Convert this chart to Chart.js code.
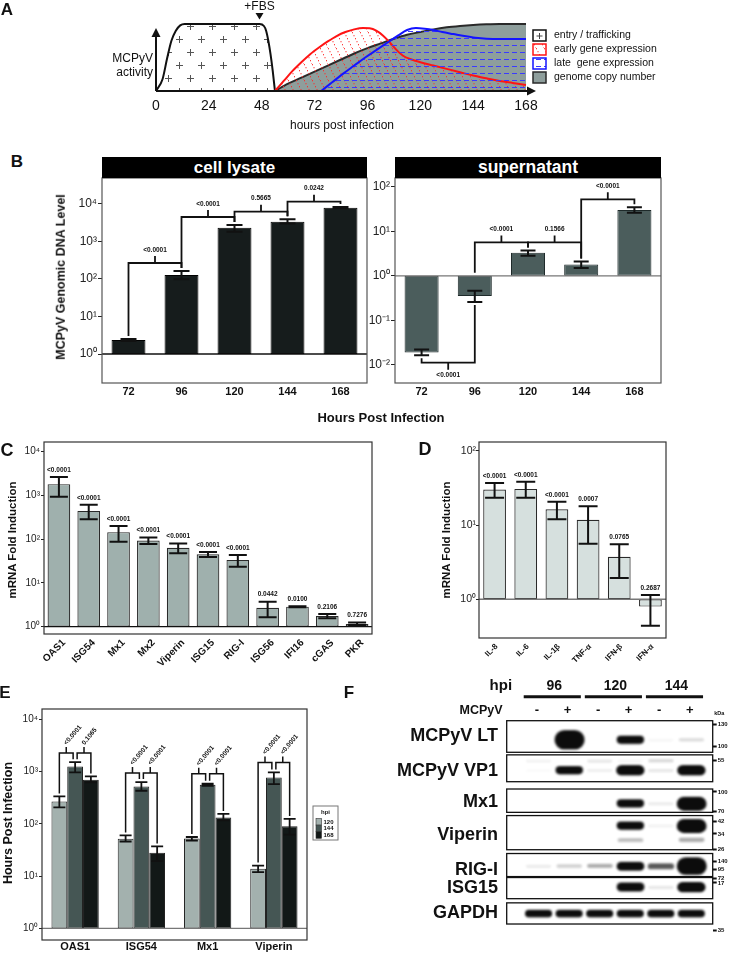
<!DOCTYPE html>
<html>
<head>
<meta charset="utf-8">
<title>MCPyV infection kinetics and innate immune response</title>
<script src="https://cdn.jsdelivr.net/npm/chart.js@4.4.1/dist/chart.umd.min.js"></script>
<style>
html,body{margin:0;padding:0;background:#fff;}
body{position:relative;width:736px;height:953px;overflow:hidden;font-family:'Liberation Sans',Arial,Helvetica,sans-serif;color:#111;}
canvas{position:absolute;}
.t{position:absolute;white-space:nowrap;line-height:1;color:#111;}
.hdr{position:absolute;background:#000;color:#fff;font-weight:bold;text-align:center;white-space:nowrap;}
</style>
</head>
<body>
<canvas id="cA"></canvas>
<canvas id="cB1"></canvas>
<canvas id="cB2"></canvas>
<canvas id="cC"></canvas>
<canvas id="cD"></canvas>
<canvas id="cE"></canvas>
<canvas id="cF"></canvas>
<div class="hdr" style="left:102px;top:157px;width:265px;height:21px;line-height:21px;font-size:17px;">cell lysate</div>
<div class="hdr" style="left:395px;top:157px;width:266px;height:21px;line-height:21px;font-size:17.5px;">supernatant</div>
<script>
const FONT = "'Liberation Sans', Arial, Helvetica, sans-serif";
Chart.defaults.font.family = FONT;
Chart.defaults.color = '#222';

// ================= DATA =================
// Panel A – schematic activity curves ([hours post infection, relative activity %])
const A_HOUR_TICKS = [0, 24, 48, 72, 96, 120, 144, 168];
const A_SERIES = ['entry / trafficking', 'early gene expression', 'late  gene expression', 'genome copy number'];
const A_ENTRY = [[0,0],[3,18],[5,48],[7,75],[9,90],[11,98],[13,100],[47,100],[49,97],[50,90],[51,75],[52,55],[53,30],[54,0]];
const A_EARLY = [[54,0],[58,15],[62,30],[66,43],[70,55],[74,65],[78,74],[82,82],[86,88],[90,92],[94,94],[97,93.5],[100,90],[103,83],[106,73],[109,62],[112,53],[116,47],[120,43],[126,38],[132,33],[138,28],[144,23],[150,19],[156,15],[162,12],[168,9]];
const A_LATE = [[75,0],[80,13],[85,26],[90,38],[95,50],[100,61],[105,72],[110,83],[114,91],[118,94],[122,93],[126,91],[130,88],[135,85],[140,82],[145,79.5],[150,78],[156,77.5],[168,77.5]];
const A_GENOME = [[54,0],[60,11],[66,20],[72,29],[78,38],[84,47],[90,56],[96,64],[102,71],[108,78],[114,84],[120,88],[126,92],[132,95],[138,97],[144,98.5],[150,99.5],[156,100],[168,100]];
const A_FBS_HOUR = 47;

// Panel B – MCPyV genomic DNA level
const B_HOURS = ['72', '96', '120', '144', '168'];
const B_LYSATE_TICKS = [1, 10, 100, 1000, 10000];
const B_LYSATE = [2.36, 128, 2330, 3370, 7950];
const B_LYSATE_LO = [2.22, 98, 1820, 3000, 7650];
const B_LYSATE_HI = [2.5, 163, 2750, 3900, 8250];
const B_LYSATE_PAIRS = [[0,1],[1,2],[2,3],[3,4]];
const B_LYSATE_PLEVEL = [267, 4500, 6230, 11520];
const B_LYSATE_P = ['<0.0001', '<0.0001', '0.5665', '0.0242'];
const B_SUP_TICKS = [0.01, 0.1, 1, 10, 100];
const B_SUP = [0.019, 0.355, 3.29, 1.8, 29.9];
const B_SUP_LO = [0.0165, 0.26, 2.81, 1.49, 26];
const B_SUP_HI = [0.0222, 0.46, 3.72, 2.1, 34.4];
const B_SUP_PAIRS = [[0,1],[1,2],[2,3],[3,4]];
const B_SUP_PLEVEL = [0.0113, 5.63, 5.63, 52.1];
const B_SUP_P = ['<0.0001', '<0.0001', '0.1566', '<0.0001'];

// Panel C – ISG mRNA fold induction
const C_GENES = ['OAS1','ISG54','Mx1','Mx2','Viperin','ISG15','RIG-I','ISG56','IFI16','cGAS','PKR'];
const C_TICKS = [1, 10, 100, 1000, 10000];
const C_FOLD = [1813, 444, 145, 93, 64, 45.4, 33.6, 2.72, 2.87, 1.76, 1.15];
const C_LO = [929, 287, 88, 78, 48, 39, 23.6, 1.64, 2.8, 1.56, 1.1];
const C_HI = [2630, 610, 201, 109, 79.5, 51, 43.7, 3.73, 2.95, 1.95, 1.24];
const C_P = ['<0.0001','<0.0001','<0.0001','<0.0001','<0.0001','<0.0001','<0.0001','0.0442','0.0100','0.2106','0.7276'];

// Panel D – cytokine mRNA fold induction
const D_GENES = ['IL-8','IL-6','IL-1β','TNF-α','IFN-β','IFN-α'];
const D_TICKS = [1, 10, 100];
const D_FOLD = [30.2, 30.8, 16.3, 11.8, 3.74, 0.795];
const D_LO = [23.3, 23.3, 12, 5.6, 1.94, 0.44];
const D_HI = [37, 38.3, 20.6, 17.9, 5.5, 1.14];
const D_P = ['<0.0001','<0.0001','<0.0001','0.0007','0.0765','0.2687'];

// Panel E – ISG expression over time
const E_GENES = ['OAS1','ISG54','Mx1','Viperin'];
const E_HPI = ['120','144','168'];
const E_TICKS = [1, 10, 100, 1000, 10000];
const E_120 = [269, 52, 52.3, 13.8];
const E_120_LO = [206, 46, 48, 11.9];
const E_120_HI = [335, 60, 56, 15.9];
const E_144 = [1250, 520, 560, 772];
const E_144_LO = [962, 430, 536, 577];
const E_144_HI = [1515, 630, 585, 962];
const E_168 = [698, 27.9, 133, 90];
const E_168_LO = [620, 19.3, 117, 62];
const E_168_HI = [807, 37, 155, 124];
const E_P_120_144 = ['<0.0001','<0.0001','<0.0001','<0.0001'];
const E_P_144_168 = ['0.1065','<0.0001','<0.0001','<0.0001'];
const E_PLEVEL = [2255, 936, 908, 1492];

// Panel F – western blot (band signal per lane, read by eye)
const F_HPI = ['96','120','144'];
const F_MCPYV = ['-','+','-','+','-','+'];
const F_PROTEINS = ['MCPyV LT','MCPyV VP1','Mx1','Viperin','RIG-I','ISG15','GAPDH'];
const F_KDA = ['130','100','55','100','70','42','34','26','140','95','72','17','35'];
const F_LT = [0, 2.8, 0, 0.95, 0.03, 0.12];
const F_VP1 = [0.02, 0.95, 0.06, 1.3, 0.08, 1.3];
const F_VP1_UPPER = [0.05, 0, 0.08, 0.03, 0.13, 0];
const F_MX1 = [0, 0, 0, 0.95, 0.07, 1.9];
const F_VIPERIN = [0, 0, 0, 0.95, 0.05, 1.9];
const F_VIPERIN_LOWER = [0, 0, 0, 0.22, 0, 0.28];
const F_RIGI = [0.07, 0.16, 0.27, 1.05, 0.55, 2.5];
const F_ISG15 = [0, 0, 0, 1.1, 0.08, 1.3];
const F_GAPDH = [0.85, 0.85, 0.85, 0.85, 0.85, 0.85];

// ================= LAYOUT (positions only) =================
const F_LAYOUT = {
  rows: [[0,33.3],[36,64.3],[72,96.6],[100,136],[140,164.3],[165.3,187.6],[192,214.3]],
  nameY: [16.3, 52.6, 86, 120, 157.6, 176, 202.6],
  kdaY: [3.6, 27, 42, 75, 95.3, 106.6, 119.3, 135.3, 148.6, 156.6, 166, 171, 221],
  bandY: [20.5, 52.6, 42.6, 87.6, 111, 126, 153.5, 175.8, 203.5]
};

// ================= HELPERS =================
const SUP = {'-':'⁻','0':'⁰','1':'¹','2':'²','3':'³','4':'⁴','5':'⁵','6':'⁶','7':'⁷','8':'⁸','9':'⁹'};
function sup(v) { const e = Math.round(Math.log10(v)); return '10' + String(e).split('').map(c => SUP[c]).join(''); }
function place(id, c) { const cv = document.getElementById(id); cv.width = c.w; cv.height = c.h; cv.style.left = c.x + 'px'; cv.style.top = c.y + 'px'; return cv.getContext('2d'); }
function fit(c, a) { return { padding: {left: 0, top: a.T - c.y, right: c.x + c.w - a.R, bottom: 0}, yW: a.L - c.x, xH: c.y + c.h - a.B }; }
function txt(s, x, y, size, bold, rot, anchor) {
  const d = document.createElement('div'); d.className = 't'; d.textContent = s;
  d.style.left = x + 'px'; d.style.top = y + 'px'; d.style.fontSize = size + 'px'; d.style.fontWeight = bold ? 'bold' : 'normal';
  let tr = anchor === 'right' ? 'translate(-100%,-50%)' : 'translate(-50%,-50%)';
  if (rot) tr += ' rotate(' + rot + 'deg)';
  d.style.transform = tr; document.body.appendChild(d);
}
const pts = arr => arr.map(([x, y]) => ({x, y}));
const floatBars = arr => arr.map(v => [1, v]);

function makeAnnot(o) {
  return {
    id: 'annot',
    afterDatasetsDraw(chart) {
      const ctx = chart.ctx, a = chart.chartArea, ys = chart.scales.y;
      const P = v => ys.getPixelForValue(v);
      ctx.save();
      ctx.lineCap = 'butt'; ctx.lineJoin = 'miter';
      if (o.base) { ctx.strokeStyle = o.base; ctx.lineWidth = 1.3; ctx.beginPath(); ctx.moveTo(a.left, P(1)); ctx.lineTo(a.right, P(1)); ctx.stroke(); }
      if (o.frame) { ctx.strokeStyle = o.frame; ctx.lineWidth = 1.2; ctx.strokeRect(a.left, a.top, a.right - a.left, a.bottom - a.top); }
      ctx.strokeStyle = '#111'; ctx.fillStyle = '#111';
      (o.err || []).forEach((e, di) => {
        const meta = chart.getDatasetMeta(di);
        ctx.lineWidth = o.errW;
        meta.data.forEach((el, j) => {
          const x = el.x, y1 = P(e.lo[j]), y2 = P(e.hi[j]), h = o.cap / 2;
          ctx.beginPath();
          ctx.moveTo(x, y1); ctx.lineTo(x, y2);
          ctx.moveTo(x - h, y1); ctx.lineTo(x + h, y1);
          ctx.moveTo(x - h, y2); ctx.lineTo(x + h, y2);
          ctx.stroke();
        });
      });
      ctx.font = 'bold 6.5px ' + FONT;
      ctx.textAlign = 'center'; ctx.textBaseline = 'middle';
      if (o.plabels) {
        const meta = chart.getDatasetMeta(0);
        meta.data.forEach((el, j) => ctx.fillText(o.plabels[j], el.x, P(o.err[0].hi[j]) - o.pGap));
      }
      if (o.brackets) {
        const meta = chart.getDatasetMeta(0), e = o.err[0], b = o.brackets;
        ctx.lineWidth = b.w;
        b.pairs.forEach(([i, j], k) => {
          const yl = P(b.levels[k]);
          const end = n => { const yt = P(Math.max(e.hi[n], 1)), yb = P(Math.min(e.lo[n], 1)); return yl < yt ? yt - b.gap : yb + b.gap; };
          const xa = meta.data[i].x, xb = meta.data[j].x, xm = (xa + xb) / 2;
          const s = yl < P(Math.max(e.hi[i], 1)) ? -1 : 1;
          ctx.beginPath();
          ctx.moveTo(xa, end(i)); ctx.lineTo(xa, yl); ctx.lineTo(xb, yl); ctx.lineTo(xb, end(j));
          ctx.moveTo(xm, yl); ctx.lineTo(xm, yl + s * b.stub);
          ctx.stroke();
          ctx.fillText(b.labels[k], xm, yl + s * (b.stub + b.tgap));
        });
      }
      if (o.ebr) {
        const m = [0, 1, 2].map(d => chart.getDatasetMeta(d));
        ctx.lineWidth = 1.5;
        o.ebr.levels.forEach((lvl, g) => {
          const yl = P(lvl);
          [[0, 1, 0, -2, o.ebr.p1[g]], [1, 2, 2, 0, o.ebr.p2[g]]].forEach(([da, db, offA, offB, label]) => {
            const xa = m[da].data[g].x + offA, xb = m[db].data[g].x + offB, xm = (xa + xb) / 2;
            const ya = P(o.err[da].hi[g]) - 3, yb = P(o.err[db].hi[g]) - 3;
            ctx.beginPath();
            ctx.moveTo(xa, ya); ctx.lineTo(xa, yl); ctx.lineTo(xb, yl); ctx.lineTo(xb, yb);
            ctx.moveTo(xm, yl); ctx.lineTo(xm, yl - 6);
            ctx.stroke();
            ctx.save(); ctx.translate(xm - 1, yl - 9); ctx.rotate(-50 * Math.PI / 180);
            ctx.textAlign = 'left'; ctx.fillText(label, 0, 0); ctx.restore();
          });
        });
      }
      ctx.restore();
    }
  };
}

function logBar(id, c, area, cfg) {
  const f = fit(c, area);
  return new Chart(place(id, c), {
    type: 'bar',
    data: { labels: cfg.labels, datasets: cfg.datasets },
    options: {
      responsive: false, animation: false, events: [],
      layout: { padding: f.padding },
      plugins: { legend: { display: false }, tooltip: { enabled: false } },
      scales: {
        x: {
          grid: { display: false, drawTicks: false }, border: { display: false },
          ticks: { autoSkip: false, color: '#111', font: cfg.xFont, padding: cfg.xPad, labelOffset: cfg.xOff || 0, minRotation: cfg.rot || 0, maxRotation: cfg.rot || 0 },
          afterFit: s => { s.height = f.xH; }
        },
        y: {
          type: 'logarithmic', min: cfg.min, max: cfg.max,
          afterBuildTicks: s => { s.ticks = cfg.ticks.map(v => ({ value: v })); },
          ticks: { autoSkip: false, callback: v => sup(v), color: '#222', font: cfg.yFont, padding: cfg.yPad },
          grid: { display: true, drawOnChartArea: false, drawTicks: true, tickLength: cfg.tickLen, color: '#222', lineWidth: 1 },
          border: { display: false },
          afterFit: s => { s.width = f.yW; }
        }
      }
    },
    plugins: [makeAnnot(cfg.annot)].concat(cfg.extra || [])
  });
}

// ================= PANEL A =================
(function () {
  const c = { x: 0, y: 0, w: 736, h: 140 }, area = { L: 156, T: 24, R: 526, B: 91 };
  const ctx = place('cA', c);
  const tile = (w, h, draw) => { const t = document.createElement('canvas'); t.width = w; t.height = h; draw(t.getContext('2d')); return t; };
  const plusPat = ctx.createPattern(tile(22, 26, g => {
    g.strokeStyle = '#555'; g.lineWidth = 1;
    [[3, 3], [14, 16]].forEach(([x, y]) => { g.beginPath(); g.moveTo(x - 3, y + 0.5); g.lineTo(x + 4, y + 0.5); g.moveTo(x + 0.5, y - 3); g.lineTo(x + 0.5, y + 4); g.stroke(); });
  }), 'repeat');
  plusPat.setTransform(new DOMMatrix([1, 0, 0, 1, 0, 10]));
  const redPat = ctx.createPattern(tile(8, 16, g => { g.fillStyle = 'rgba(255,40,40,0.9)'; for (let t = 0; t < 16; t += 3) g.fillRect(t / 2, t, 1, 1.3); }), 'repeat');
  const bluePat = ctx.createPattern(tile(8, 7, g => { g.fillStyle = '#3a3aff'; g.fillRect(0, 3, 5, 1); }), 'repeat');
  const GREY = '#8e9e9c';
  const common = { borderWidth: 2, pointRadius: 0, cubicInterpolationMode: 'monotone', fill: 'origin', clip: false };
  const aDeco = {
    id: 'aDeco',
    afterDatasetsDraw(chart) {
      const { ctx, chartArea: a, scales: { x } } = chart;
      ctx.save();
      ctx.strokeStyle = '#111'; ctx.fillStyle = '#111'; ctx.lineWidth = 2;
      ctx.beginPath(); ctx.moveTo(a.left, a.bottom); ctx.lineTo(a.right + 3, a.bottom); ctx.stroke();
      ctx.beginPath(); ctx.moveTo(a.right + 10, a.bottom); ctx.lineTo(a.right + 1, a.bottom - 4.5); ctx.lineTo(a.right + 1, a.bottom + 4.5); ctx.closePath(); ctx.fill();
      ctx.beginPath(); ctx.moveTo(a.left, a.bottom); ctx.lineTo(a.left, a.top + 12); ctx.stroke();
      ctx.beginPath(); ctx.moveTo(a.left, a.top + 4); ctx.lineTo(a.left - 4.5, a.top + 13); ctx.lineTo(a.left + 4.5, a.top + 13); ctx.closePath(); ctx.fill();
      const xf = x.getPixelForValue(A_FBS_HOUR);
      ctx.font = '12px ' + FONT; ctx.textAlign = 'center'; ctx.textBaseline = 'middle';
      ctx.fillText('+FBS', xf, 7);
      ctx.beginPath(); ctx.moveTo(xf - 4, 13); ctx.lineTo(xf + 4, 13); ctx.lineTo(xf, 19.5); ctx.closePath(); ctx.fill();
      // legend
      const lx = a.right + 7;
      A_SERIES.forEach((lab, i) => {
        const ds = chart.data.datasets.find(d => d.label === lab);
        const yc = a.top + 11.5 + 14 * i, bx = lx, by = yc - 5.5, bw = 13, bh = 11;
        ctx.fillStyle = '#fff'; ctx.fillRect(bx, by, bw, bh);
        if (i === 0) {
          ctx.strokeStyle = '#444'; ctx.lineWidth = 1; ctx.beginPath();
          ctx.moveTo(bx + 3.5, yc + 0.5); ctx.lineTo(bx + 9.5, yc + 0.5); ctx.moveTo(bx + 6.5, yc - 2.5); ctx.lineTo(bx + 6.5, yc + 3.5); ctx.stroke();
        } else {
          ctx.fillStyle = ds.backgroundColor; ctx.fillRect(bx, by, bw, bh);
        }
        ctx.strokeStyle = ds.borderColor; ctx.lineWidth = 1.5; ctx.strokeRect(bx, by, bw, bh);
        ctx.fillStyle = '#111'; ctx.font = '10.5px ' + FONT; ctx.textAlign = 'left'; ctx.textBaseline = 'middle';
        ctx.fillText(lab, lx + 21, yc);
      });
      ctx.restore();
    }
  };
  new Chart(ctx, {
    type: 'line',
    data: {
      datasets: [
        Object.assign({ label: A_SERIES[2], data: pts(A_LATE), borderColor: '#1414ff', backgroundColor: bluePat, order: 0 }, common),
        Object.assign({ label: A_SERIES[1], data: pts(A_EARLY), borderColor: '#ff1414', backgroundColor: redPat, order: 1 }, common),
        Object.assign({ label: A_SERIES[3], data: pts(A_GENOME), borderColor: '#2a2a2a', backgroundColor: GREY, order: 2 }, common),
        Object.assign({ label: A_SERIES[0], data: pts(A_ENTRY), borderColor: '#111', backgroundColor: plusPat, order: 3 }, common)
      ]
    },
    options: {
      responsive: false, animation: false, events: [],
      layout: { padding: { left: area.L, top: area.T, right: c.w - area.R, bottom: 0 } },
      plugins: { legend: { display: false }, tooltip: { enabled: false } },
      scales: {
        x: {
          type: 'linear', min: 0, max: 168,
          afterBuildTicks: s => { s.ticks = A_HOUR_TICKS.map(v => ({ value: v })); },
          grid: { display: false, drawTicks: false }, border: { display: false },
          ticks: { autoSkip: false, color: '#111', font: { size: 14 }, padding: 7 },
          afterFit: s => { s.height = c.h - area.B; }
        },
        y: { display: false, min: 0, max: 100 }
      }
    },
    plugins: [aDeco]
  });
})();

// ================= PANEL B =================
logBar('cB1', { x: 40, y: 150, w: 335, h: 255 }, { L: 102, T: 178, R: 367, B: 383 }, {
  labels: B_HOURS,
  datasets: [{ data: floatBars(B_LYSATE), backgroundColor: '#161c1c', borderColor: '#000', borderWidth: 1, borderSkipped: false, barPercentage: 0.64, categoryPercentage: 1 }],
  min: Math.pow(10, -0.773), max: Math.pow(10, 4.693), ticks: B_LYSATE_TICKS,
  xFont: { size: 11, weight: 'bold' }, xPad: 2, yFont: { size: 12 }, yPad: 1, tickLen: 4,
  annot: {
    base: '#111', frame: '#555', errW: 2, cap: 16,
    err: [{ lo: B_LYSATE_LO, hi: B_LYSATE_HI }],
    brackets: { pairs: B_LYSATE_PAIRS, levels: B_LYSATE_PLEVEL, labels: B_LYSATE_P, w: 1.8, gap: 3, stub: 7, tgap: 6 }
  }
});
logBar('cB2', { x: 330, y: 150, w: 340, h: 255 }, { L: 395, T: 178, R: 661, B: 383 }, {
  labels: B_HOURS,
  datasets: [{ data: floatBars(B_SUP), backgroundColor: '#4b5d5c', borderColor: '#1e2a2a', borderWidth: 1, borderSkipped: false, barPercentage: 0.64, categoryPercentage: 1 }],
  min: Math.pow(10, -2.404), max: Math.pow(10, 2.195), ticks: B_SUP_TICKS,
  xFont: { size: 11, weight: 'bold' }, xPad: 2, yFont: { size: 12 }, yPad: 1, tickLen: 4,
  annot: {
    base: '#777', frame: '#555', errW: 2, cap: 15,
    err: [{ lo: B_SUP_LO, hi: B_SUP_HI }],
    brackets: { pairs: B_SUP_PAIRS, levels: B_SUP_PLEVEL, labels: B_SUP_P, w: 1.8, gap: 3, stub: 7, tgap: 6 }
  }
});

// ================= PANEL C =================
logBar('cC', { x: 0, y: 428, w: 380, h: 252 }, { L: 44, T: 442, R: 372, B: 634 }, {
  labels: C_GENES,
  datasets: [{ data: floatBars(C_FOLD), backgroundColor: '#9fb0ad', borderColor: '#2a2a2a', borderWidth: 1.2, borderSkipped: false, barPercentage: 0.76, categoryPercentage: 1 }],
  min: Math.pow(10, -0.167), max: Math.pow(10, 4.222), ticks: C_TICKS,
  xFont: { size: 10, weight: 'bold' }, xPad: 3, xOff: 5, rot: 45, yFont: { size: 10 }, yPad: 1, tickLen: 3,
  annot: { base: '#111', frame: '#333', errW: 2, cap: 18, err: [{ lo: C_LO, hi: C_HI }], plabels: C_P, pGap: 7 }
});

// ================= PANEL D =================
logBar('cD', { x: 420, y: 428, w: 260, h: 252 }, { L: 479, T: 442, R: 666, B: 638 }, {
  labels: D_GENES,
  datasets: [{ data: floatBars(D_FOLD), backgroundColor: '#d6e0de', borderColor: '#2a2a2a', borderWidth: 1.2, borderSkipped: false, barPercentage: 0.73, categoryPercentage: 1 }],
  min: Math.pow(10, -0.52), max: Math.pow(10, 2.121), ticks: D_TICKS,
  xFont: { size: 8, weight: 'bold' }, xPad: 4, xOff: 2, rot: 45, yFont: { size: 10.5 }, yPad: 0, tickLen: 3,
  annot: { base: '#777', frame: '#333', errW: 2, cap: 19, err: [{ lo: D_LO, hi: D_HI }], plabels: D_P, pGap: 7 }
});

// ================= PANEL E =================
const eLegend = {
  id: 'eLegend',
  afterDraw(chart) {
    const ctx = chart.ctx, a = chart.chartArea;
    const x0 = a.right + 6, y0 = a.top + 97, w = 25, h = 34;
    ctx.save();
    ctx.fillStyle = '#fff'; ctx.fillRect(x0, y0, w, h);
    ctx.strokeStyle = '#777'; ctx.lineWidth = 1; ctx.strokeRect(x0, y0, w, h);
    ctx.fillStyle = '#111'; ctx.font = 'bold 6px ' + FONT; ctx.textAlign = 'center'; ctx.textBaseline = 'middle';
    ctx.fillText('hpi', x0 + w / 2, y0 + 6);
    chart.data.datasets.forEach((ds, i) => {
      const yy = y0 + 12.5 + i * 6.6;
      ctx.fillStyle = ds.backgroundColor; ctx.fillRect(x0 + 3, yy, 5.5, 6.6);
      ctx.strokeStyle = '#333'; ctx.lineWidth = 0.6; ctx.strokeRect(x0 + 3, yy, 5.5, 6.6);
      ctx.fillStyle = '#111'; ctx.textAlign = 'left'; ctx.fillText(ds.label, x0 + 10.5, yy + 3.4);
    });
    ctx.restore();
  }
};
const eBar = (label, vals, color) => ({ label, data: floatBars(vals), backgroundColor: color, borderColor: '#222', borderWidth: 1, borderSkipped: false, barPercentage: 1, categoryPercentage: 0.714 });
logBar('cE', { x: 0, y: 696, w: 352, h: 257 }, { L: 42, T: 709, R: 307, B: 940 }, {
  labels: E_GENES,
  datasets: [eBar(E_HPI[0], E_120, '#a3b1ae'), eBar(E_HPI[1], E_144, '#455654'), eBar(E_HPI[2], E_168, '#121817')],
  min: Math.pow(10, -0.22), max: Math.pow(10, 4.197), ticks: E_TICKS,
  xFont: { size: 11, weight: 'bold' }, xPad: 0, yFont: { size: 10 }, yPad: 1, tickLen: 3,
  annot: {
    base: '#777', frame: '#333', errW: 1.8, cap: 12,
    err: [{ lo: E_120_LO, hi: E_120_HI }, { lo: E_144_LO, hi: E_144_HI }, { lo: E_168_LO, hi: E_168_HI }],
    ebr: { levels: E_PLEVEL, p1: E_P_120_144, p2: E_P_144_168 }
  },
  extra: [eLegend]
});

// ================= PANEL F (blot) =================
const bandCache = {};
function bandImg(s) {
  if (bandCache[s]) return bandCache[s];
  const a = Math.min(1, 1.25 * s), h = 2.5 + 6 * s, w = 25 + 2.5 * Math.min(s, 2), pad = 4;
  const cv = document.createElement('canvas');
  cv.width = Math.ceil(w + 2 * pad); cv.height = Math.ceil(h + 2 * pad);
  const g = cv.getContext('2d');
  g.filter = 'blur(1.1px)';
  g.fillStyle = 'rgba(12,12,12,' + a + ')';
  g.beginPath(); g.roundRect(pad, pad, w, h, h / 2); g.fill();
  return (bandCache[s] = cv);
}
(function () {
  const c = { x: 380, y: 670, w: 356, h: 283 }, area = { L: 506.7, T: 720.7, R: 712.7, B: 945 };
  const sets = [F_LT, F_VP1, F_VP1_UPPER, F_MX1, F_VIPERIN, F_VIPERIN_LOWER, F_RIGI, F_ISG15, F_GAPDH];
  const blotDeco = {
    id: 'blotDeco',
    beforeDatasetsDraw(chart) {
      const { ctx, chartArea: a, scales: { y } } = chart;
      ctx.save(); ctx.fillStyle = '#fff';
      F_LAYOUT.rows.forEach(([t, b]) => ctx.fillRect(a.left, y.getPixelForValue(t), a.right - a.left, y.getPixelForValue(b) - y.getPixelForValue(t)));
      ctx.restore();
    },
    afterDatasetsDraw(chart) {
      const { ctx, chartArea: a, scales: { x, y } } = chart;
      const X = v => x.getPixelForValue(v), lw = X(1) - X(0);
      ctx.save();
      ctx.strokeStyle = '#111'; ctx.lineWidth = 1.3;
      F_LAYOUT.rows.forEach(([t, b]) => { const yt = y.getPixelForValue(t), yb = y.getPixelForValue(b); ctx.strokeRect(a.left, yt, a.right - a.left, yb - yt); });
      ctx.fillStyle = '#111'; ctx.textBaseline = 'middle'; ctx.textAlign = 'center';
      ctx.font = 'bold 15px ' + FONT; ctx.fillText('hpi', X(-1.25), a.top - 35);
      ctx.font = 'bold 14px ' + FONT;
      F_HPI.forEach((h, g) => {
        const xa = X(2 * g), xb = X(2 * g + 1);
        ctx.fillText(h, (xa + xb) / 2, a.top - 35);
        ctx.lineWidth = 3; ctx.beginPath(); ctx.moveTo(xa - 0.5 * lw, a.top - 24); ctx.lineTo(xb + 0.37 * lw, a.top - 24); ctx.stroke();
      });
      ctx.font = 'bold 12.5px ' + FONT; ctx.textAlign = 'right'; ctx.fillText('MCPyV', X(-1.19), a.top - 10);
      ctx.textAlign = 'center'; ctx.font = 'bold 13px ' + FONT;
      F_MCPYV.forEach((s, i) => ctx.fillText(s, X(i) - 2, a.top - 10));
      ctx.font = 'bold 5.5px ' + FONT; ctx.textAlign = 'left'; ctx.fillText('kDa', a.right + 1.5, a.top - 7.7);
      ctx.restore();
    }
  };
  new Chart(place('cF', c), {
    type: 'scatter',
    data: {
      datasets: sets.map((arr, k) => ({
        data: arr.map((s, i) => ({ x: i, y: F_LAYOUT.bandY[k], s })).filter(p => p.s > 0),
        pointStyle: ctx => (ctx.raw ? bandImg(ctx.raw.s) : 'circle'),
        pointRadius: 2
      }))
    },
    options: {
      responsive: false, animation: false, events: [],
      layout: { padding: { left: 0, top: area.T - c.y, right: 0, bottom: c.y + c.h - area.B } },
      plugins: { legend: { display: false }, tooltip: { enabled: false } },
      scales: {
        x: { type: 'linear', display: false, min: -1.057, max: 5.686 },
        y: {
          type: 'linear', reverse: true, min: 0, max: area.B - area.T,
          afterBuildTicks: s => { s.ticks = F_LAYOUT.nameY.map(v => ({ value: v })); },
          ticks: { autoSkip: false, callback: (v, i) => F_PROTEINS[i], color: '#111', font: { size: 18, weight: 'bold' }, padding: 8.7 },
          grid: { display: false, drawTicks: false }, border: { display: false },
          afterFit: s => { s.width = area.L - c.x; }
        },
        y2: {
          type: 'linear', position: 'right', reverse: true, min: 0, max: area.B - area.T,
          afterBuildTicks: s => { s.ticks = F_LAYOUT.kdaY.map(v => ({ value: v })); },
          ticks: { autoSkip: false, callback: (v, i) => F_KDA[i], color: '#111', font: { size: 6, weight: 'bold' }, padding: 1 },
          grid: { display: true, drawOnChartArea: false, drawTicks: true, tickLength: 4, tickWidth: 2, tickColor: '#111', color: '#111' },
          border: { display: false },
          afterFit: s => { s.width = c.x + c.w - area.R; }
        }
      }
    },
    plugins: [blotDeco]
  });
})();

// ================= TEXT =================
txt('A', 7, 9, 17, true);
txt('MCPyV', 153, 57.5, 12, false, 0, 'right');
txt('activity', 153, 71.5, 12, false, 0, 'right');
txt('hours post infection', 342, 125, 12, false);
txt('B', 17, 161, 17, true);
txt('MCPyV Genomic DNA Level', 61, 277, 12.5, true, -90);
txt('Hours Post Infection', 381, 416.5, 13, true);
txt('C', 7, 450, 18, true);
txt('mRNA Fold Induction', 13, 540, 11.5, true, -90);
txt('D', 425, 449, 18, true);
txt('mRNA Fold Induction', 447, 540, 11.5, true, -90);
txt('E', 5, 692, 17, true);
txt('Hours Post Infection', 8, 823, 12.5, true, -90);
txt('F', 349, 692, 17, true);
</script>
</body>
</html>
